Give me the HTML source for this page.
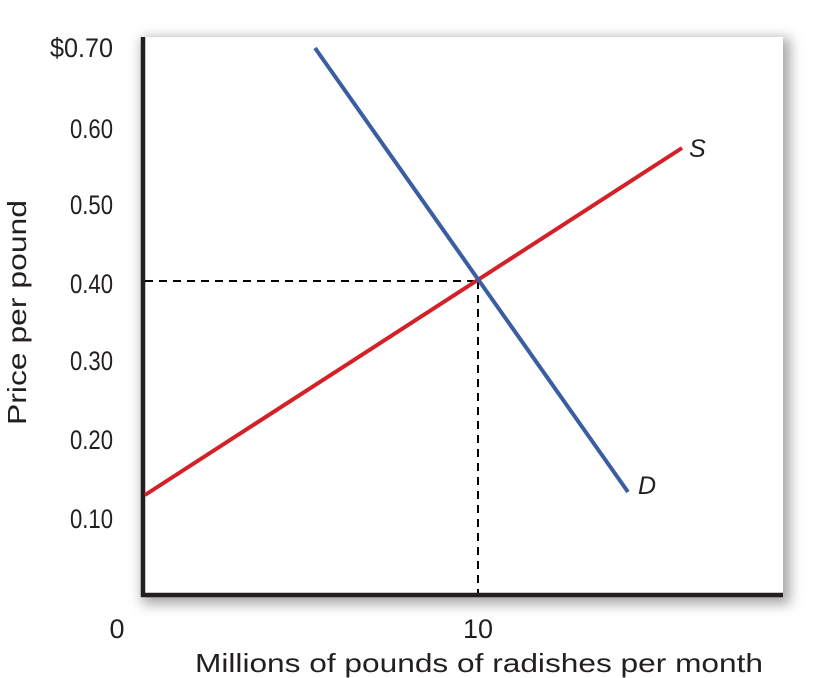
<!DOCTYPE html>
<html><head><style>
html,body{margin:0;padding:0;background:#fff;width:821px;height:678px;overflow:hidden}
.box{position:absolute;left:141px;top:37px;width:642px;height:560px;background:#fff;box-shadow:4px 4px 12px 3px rgba(0,0,0,0.35)}
svg{position:absolute;left:0;top:0}
</style></head><body>
<div class="box"></div>
<svg width="821" height="678" viewBox="0 0 821 678" font-family="Liberation Sans, sans-serif" fill="#231f20">
<line x1="143" y1="37" x2="143" y2="597" stroke="#231f20" stroke-width="4.5"/>
<line x1="141" y1="595" x2="783" y2="595" stroke="#231f20" stroke-width="4.5"/>
<line x1="145" y1="281" x2="478" y2="281" stroke="#000" stroke-width="2" stroke-dasharray="8,6"/>
<line x1="478" y1="281" x2="478" y2="593" stroke="#000" stroke-width="2" stroke-dasharray="8,6"/>
<line x1="145" y1="495" x2="682" y2="148" stroke="#d42027" stroke-width="4"/>
<line x1="315" y1="48" x2="628" y2="492" stroke="#3a5da3" stroke-width="4"/>
<g font-size="27" lengthAdjust="spacingAndGlyphs">
<text x="50" y="57" textLength="63" lengthAdjust="spacingAndGlyphs">$0.70</text>
<text x="70" y="138" textLength="43" lengthAdjust="spacingAndGlyphs">0.60</text>
<text x="70" y="214" textLength="43" lengthAdjust="spacingAndGlyphs">0.50</text>
<text x="70" y="293" textLength="43" lengthAdjust="spacingAndGlyphs">0.40</text>
<text x="70" y="370" textLength="43" lengthAdjust="spacingAndGlyphs">0.30</text>
<text x="70" y="449" textLength="43" lengthAdjust="spacingAndGlyphs">0.20</text>
<text x="70" y="528" textLength="43" lengthAdjust="spacingAndGlyphs">0.10</text>
</g>
<text x="117" y="638" font-size="27" text-anchor="middle">0</text>
<text x="478" y="638" font-size="27" text-anchor="middle">10</text>
<text x="195" y="672" font-size="26" textLength="568" lengthAdjust="spacingAndGlyphs">Millions of pounds of radishes per month</text>
<text transform="translate(26,425) rotate(-90)" font-size="26" textLength="225" lengthAdjust="spacingAndGlyphs">Price per pound</text>
<text x="689" y="157" font-size="25" font-style="italic">S</text>
<text x="638" y="494" font-size="25" font-style="italic">D</text>
</svg>
</body></html>
